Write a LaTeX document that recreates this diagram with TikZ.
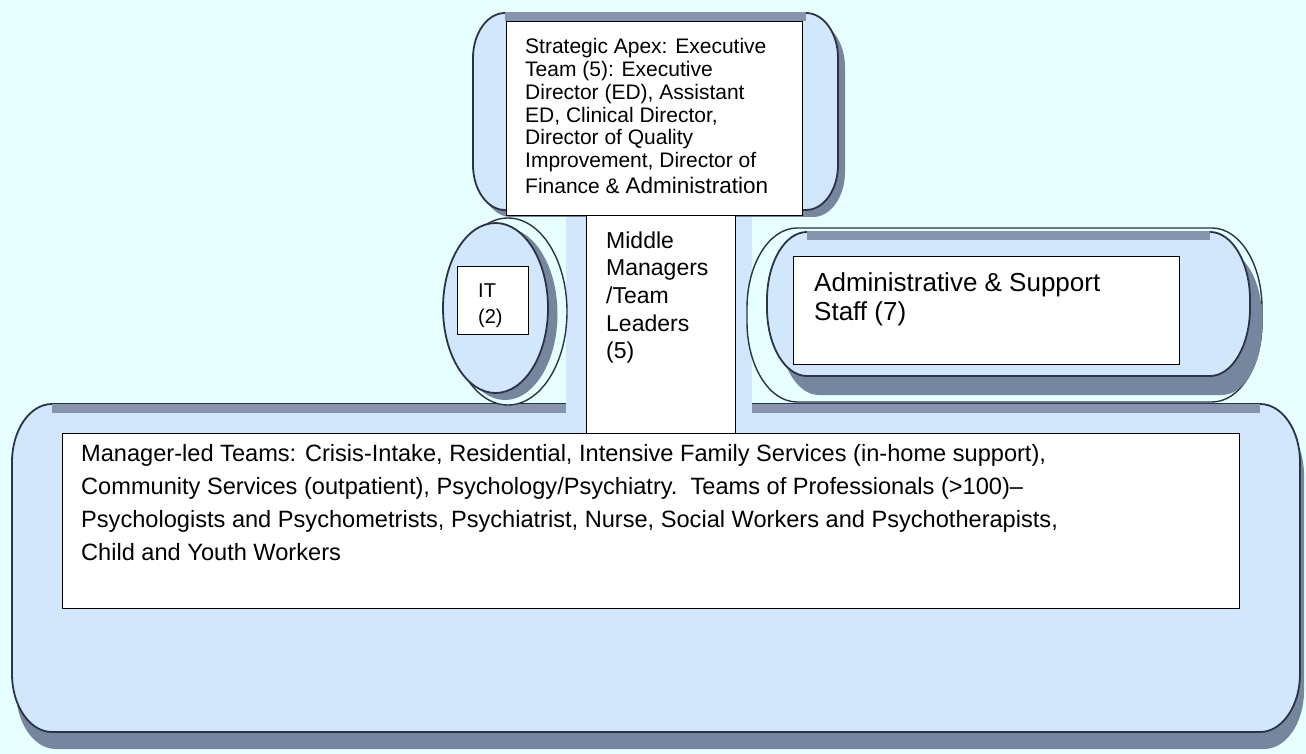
\documentclass[tikz,border=0pt]{standalone}
\usepackage{fontspec}
\setmainfont{Liberation Sans}
\definecolor{bgc}{HTML}{E8FFFF}
\definecolor{fillb}{HTML}{D2E6FC}
\definecolor{band}{HTML}{8694AE}
\definecolor{darkl}{HTML}{2B3344}
\definecolor{shad}{HTML}{77869F}
\tikzset{
  erect/.style n args={6}{insert path={(#1+#5,#2) -- (#3-#5,#2)
     arc[start angle=-90,end angle=0,x radius=#5,y radius=#6] -- (#3,#4-#6)
     arc[start angle=0,end angle=90,x radius=#5,y radius=#6] -- (#1+#5,#4)
     arc[start angle=90,end angle=180,x radius=#5,y radius=#6] -- (#1,#2+#6)
     arc[start angle=180,end angle=270,x radius=#5,y radius=#6] -- cycle}},
  shapebox/.style={fill=fillb, draw=darkl, line width=1.8pt},
  outerbox/.style={fill=bgc, draw=darkl, line width=1.4pt},
  shadowfill/.style={fill=shad},
  topband/.style={draw=band, line width=9pt},
  whitebox/.style={fill=white, draw=black, line width=1.2pt, inner sep=0pt, anchor=north west},
  txt/.style={inner sep=0pt, anchor=base west, align=left},
}
\begin{document}
\begin{tikzpicture}[x=1pt,y=-1pt]
\useasboundingbox (0,0) rectangle (1306,754);
\fill[bgc] (0,0) rectangle (1306,754);

% bottom (operating core) shape
\path[shadowfill, erect={16}{417}{1304}{749}{40}{58}];
\path[shapebox, erect={12}{404}{1300}{732}{40}{58}];
\path[topband] (52,408) -- (1260,408);

% column behind middle managers
\fill[fillb] (566,205) rectangle (752,420);

% strategic apex shape
\path[shadowfill, erect={479}{22}{845}{217}{32}{45}];
\path[shapebox, erect={473}{13}{838}{210}{32}{45}];
\path[topband] (505,17) -- (806,17);

% IT oval
\path[outerbox] (508,311.5) ellipse[x radius=59, y radius=93.5];
\path[shadowfill] (505,314) ellipse[x radius=52.5, y radius=86];
\path[shapebox] (495.5,308) ellipse[x radius=52.5, y radius=85];

% admin shape
\path[outerbox, erect={747}{228}{1262}{402}{50}{80}];
\path[shadowfill, erect={779}{250}{1262}{395}{40}{68}];
\path[shapebox, erect={767}{232}{1250}{376}{40}{68}];
\path[topband] (807,235) -- (1210,235);

% white boxes
\node[whitebox, minimum width=149pt, minimum height=218pt] (midbox) at (586,215) {};
\node[whitebox, minimum width=296pt, minimum height=194pt] (apexbox) at (506,21) {};
\node[whitebox, minimum width=71pt, minimum height=68pt] (itbox) at (457,266) {};
\node[whitebox, minimum width=386pt, minimum height=108pt] (adminbox) at (793,256) {};
\node[whitebox, minimum width=1177pt, minimum height=175pt] (corebox) at (62,433) {};

% texts
\node[txt] (apextxt) at (525,54) {\fontsize{21}{22.7}\selectfont\begin{tabular}[t]{@{}l@{}}Strategic Apex: Executive\\Team (5): Executive\\Director (ED), Assistant\\ED, Clinical Director,\\Director of Quality\\Improvement, Director of\\[2.5pt]Finance \& {\fontsize{22.5}{24}\selectfont Administration}\end{tabular}};
\node[txt] (midtxt) at (606,248) {\fontsize{23}{27.7}\selectfont\begin{tabular}[t]{@{}l@{}}Middle\\Managers\\/Team\\Leaders\\(5)\end{tabular}};
\node[txt] (ittxt) at (478,297) {\fontsize{20}{26.5}\selectfont\begin{tabular}[t]{@{}l@{}}IT\\(2)\end{tabular}};
\node[txt] (admintxt) at (814,291.7) {\fontsize{26}{29}\selectfont\begin{tabular}[t]{@{}l@{}}Administrative \& Support\\Staff (7)\end{tabular}};
\node[txt] (coretxt) at (81,461.7) {\fontsize{23.6}{32.8}\selectfont\begin{tabular}[t]{@{}l@{}}Manager-led Teams: Crisis-Intake, Residential, Intensive Family Services (in-home support),\\Community Services (outpatient), Psychology/Psychiatry.\ \ Teams of Professionals (>100)\textendash\\Psychologists and Psychometrists, Psychiatrist, Nurse, Social Workers and Psychotherapists,\\Child and Youth Workers\end{tabular}};
\end{tikzpicture}
\end{document}
